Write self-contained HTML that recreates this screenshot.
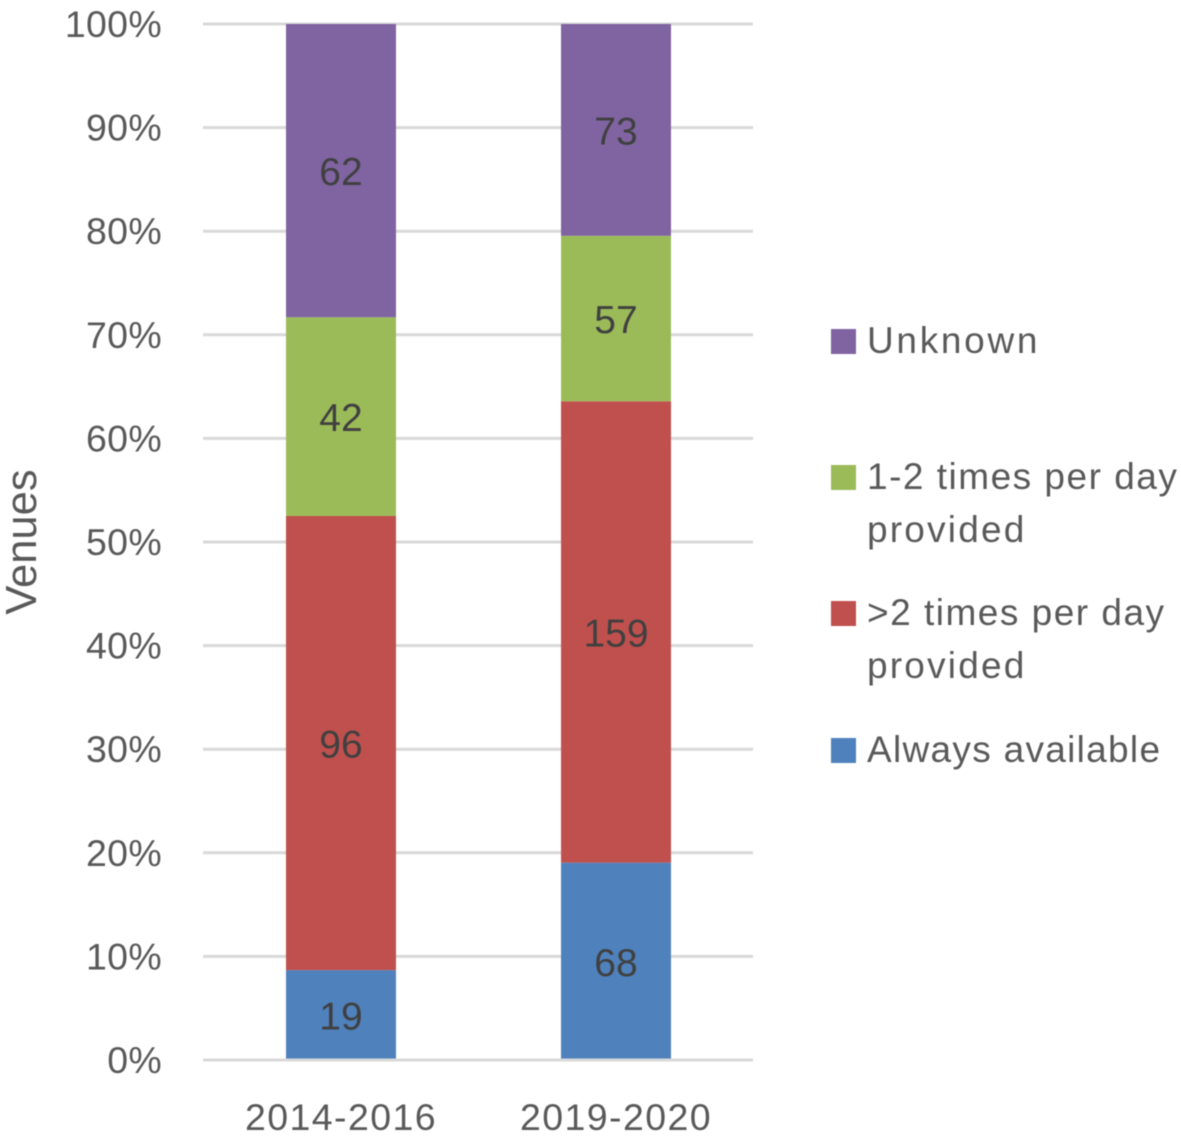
<!DOCTYPE html>
<html>
<head>
<meta charset="utf-8">
<style>
html,body{margin:0;padding:0;background:#fff;width:1181px;height:1138px;overflow:hidden}
svg{display:block;filter:blur(.4px)}
text{font-family:"Liberation Sans",sans-serif;fill:#595959}
</style>
</head>
<body>
<svg id="chart" xmlns="http://www.w3.org/2000/svg" width="1181" height="1138" viewBox="0 0 1181 1138"></svg>
<script>
const categories = ['2014-2016', '2019-2020'];
const seriesNames = ['Always available', '>2 times per day provided', '1-2 times per day provided', 'Unknown'];
const alwaysAvailable = [19, 68];
const moreThanTwice = [96, 159];
const onceOrTwice = [42, 57];
const unknown = [62, 73];
const tickValues = [0, 10, 20, 30, 40, 50, 60, 70, 80, 90, 100];

const seriesValues = [alwaysAvailable, moreThanTwice, onceOrTwice, unknown];
const colors = ['#4f81bd', '#c0504d', '#9bbb59', '#8064a2'];
const plot = {left: 203, right: 753, top: 24, bottom: 1060};
const barWidth = 110;
const svg = document.getElementById('chart');
const NS = 'http://www.w3.org/2000/svg';

function yScale(pct) { return plot.bottom - (pct / 100) * (plot.bottom - plot.top); }
function xBand(i) { return plot.left + (i + 0.5) * (plot.right - plot.left) / categories.length + 0.5; }
function slug(s) { return s.toLowerCase().replace(/[^a-z0-9]+/g, '-').replace(/^-|-$/g, ''); }

function makeText(str, x, y, size, anchor, spacing) {
  const t = document.createElementNS(NS, 'text');
  t.setAttribute('x', x);
  t.setAttribute('y', y);
  t.setAttribute('font-size', size);
  t.setAttribute('text-anchor', anchor);
  if (spacing) t.setAttribute('letter-spacing', spacing);
  t.textContent = str;
  svg.appendChild(t);
  return t;
}

function makeGridline(v) {
  const line = document.createElementNS(NS, 'line');
  line.setAttribute('x1', plot.left);
  line.setAttribute('x2', plot.right);
  line.setAttribute('y1', yScale(v));
  line.setAttribute('y2', yScale(v));
  line.setAttribute('stroke', '#d9d9d9');
  line.setAttribute('stroke-width', 3);
  
  
  svg.appendChild(line);
}

tickValues.forEach(function (v) {
  if (v !== 0) makeGridline(v);
  const label = makeText(v + '%', 162, yScale(v) + 13, 37.5, 'end', '0.3');
  
  
});

categories.forEach(function (cat, c) {
  const total = seriesValues.reduce(function (sum, s) { return sum + s[c]; }, 0);
  let cumulative = 0;
  seriesValues.forEach(function (s, k) {
    const y0 = yScale(cumulative / total * 100);
    cumulative += s[c];
    const y1 = yScale(cumulative / total * 100);
    const rect = document.createElementNS(NS, 'rect');
    rect.setAttribute('x', xBand(c) - barWidth / 2);
    rect.setAttribute('y', y1);
    rect.setAttribute('width', barWidth);
    rect.setAttribute('height', y0 - y1);
    rect.setAttribute('fill', colors[k]);
    
    
    svg.appendChild(rect);
    const label = makeText(String(s[c]), xBand(c), (y0 + y1) / 2 + 14.5, 39, 'middle');
    label.style.fill = '#404040';
    
    
  });
  const catLabel = makeText(cat, xBand(c), 1130, 37.5, 'middle', '1.4');
  
  
});

makeGridline(0);

const yTitle = makeText('Venues', 0, 0, 43.5, 'middle');
yTitle.setAttribute('transform', 'translate(36 542) rotate(-90)');



function legendEntry(k, swatchY, lines, spacings) {
  const sw = document.createElementNS(NS, 'rect');
  sw.setAttribute('x', 831);
  sw.setAttribute('y', swatchY);
  sw.setAttribute('width', 25);
  sw.setAttribute('height', 25);
  sw.setAttribute('fill', colors[k]);
  
  
  svg.appendChild(sw);
  lines.forEach(function (line, i) {
    const t = makeText(line, 867, swatchY + 24 + i * 53, 37, 'start', spacings[i]);
    
    
  });
}
legendEntry(3, 329, ['Unknown'], ['2.7']);
legendEntry(2, 465, ['1-2 times per day', 'provided'], ['1.5', '2.2']);
legendEntry(1, 601, ['>2 times per day', 'provided'], ['1.5', '2.2']);
legendEntry(0, 738, ['Always available'], ['1.3']);
</script>
</body>
</html>
